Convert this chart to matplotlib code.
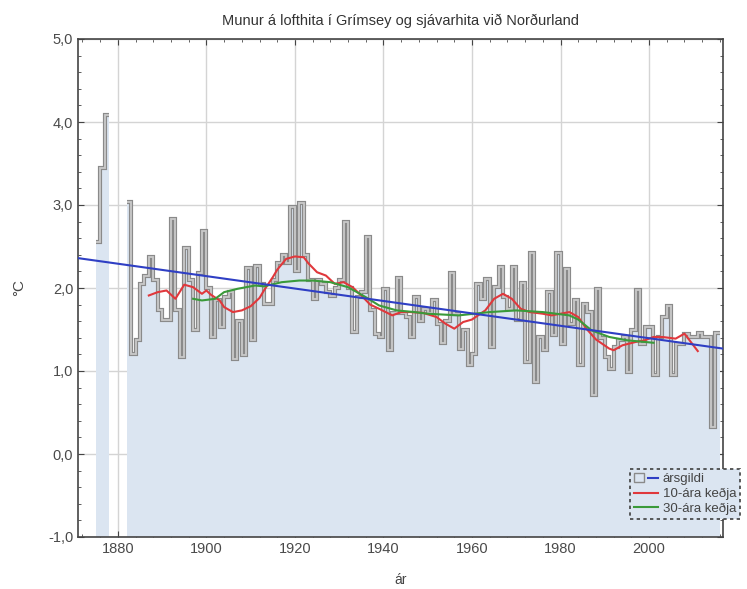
import matplotlib
matplotlib.use("Agg")
import matplotlib.pyplot as plt
from matplotlib.patches import Patch
from matplotlib.lines import Line2D
from matplotlib.legend_handler import HandlerTuple
from matplotlib.ticker import FuncFormatter, MultipleLocator

plt.rcParams["font.family"] = ["Liberation Sans", "DejaVu Sans"]

# annual values (two blocks, gap 1878-1881)
early_years = [1875, 1876, 1877]
early_vals = [2.56, 3.44, 4.08]

years = list(range(1882, 2016))
vals = [
    3.04, 1.21, 1.37, 2.05, 2.15, 2.37, 2.10, 1.73, 1.61, 1.61,   # 1882-1891
    2.83, 1.73, 1.17, 2.48, 2.10, 1.49, 2.18, 2.69, 2.00, 1.41,   # 1892-1901
    1.85, 1.53, 1.89, 1.95, 1.15, 1.60, 1.19, 2.24, 1.37, 2.27,   # 1902-1911
    2.05, 1.81, 1.81, 2.10, 2.30, 2.40, 2.30, 2.98, 2.20, 3.03,   # 1912-1921
    2.40, 2.10, 1.87, 2.10, 2.05, 1.95, 1.90, 2.00, 2.10, 2.80,   # 1922-1931
    2.00, 1.47, 1.89, 1.95, 2.62, 1.73, 1.45, 1.41, 1.99, 1.25,   # 1932-1941
    1.70, 2.12, 1.70, 1.65, 1.41, 1.89, 1.60, 1.75, 1.70, 1.85,   # 1942-1951
    1.57, 1.34, 1.60, 2.18, 1.69, 1.27, 1.49, 1.07, 1.20, 2.05,   # 1952-1961
    1.87, 2.11, 1.29, 2.01, 2.25, 1.89, 1.75, 2.25, 1.61, 2.06,   # 1962-1971
    1.11, 2.42, 0.87, 1.41, 1.25, 1.95, 1.43, 2.42, 1.33, 2.23,   # 1972-1981
    1.57, 1.85, 1.07, 1.81, 1.71, 0.71, 1.99, 1.40, 1.17, 1.03,   # 1982-1991
    1.29, 1.37, 1.41, 0.99, 1.49, 1.97, 1.33, 1.53, 1.53, 0.95,   # 1992-2001
    1.41, 1.65, 1.78, 0.95, 1.33, 1.33, 1.45, 1.41, 1.41, 1.46,   # 2002-2011
    1.41, 1.41, 0.33, 1.46,                                       # 2012-2015
]

# linear trend
trend_years = [1871, 2016.7]
trend_vals = [2.36, 1.27]

# 10-year running mean
red_years = [1887, 1889, 1891, 1893, 1895, 1897, 1899, 1900, 1901, 1903, 1904, 1906,
             1908, 1910, 1912, 1913, 1915, 1916, 1918, 1920, 1922, 1923, 1925, 1927,
             1929, 1931, 1933, 1935, 1937, 1939, 1942, 1944, 1946, 1949, 1952, 1954,
             1956, 1958, 1960, 1963, 1965, 1967, 1969, 1971, 1973, 1976, 1978, 1980,
             1982, 1984, 1986, 1988, 1991, 1992, 1994, 1997, 1999, 2001, 2003, 2006,
             2008, 2009, 2011]
red_vals = [1.91, 1.95, 1.97, 1.87, 2.04, 2.01, 1.93, 1.97, 1.92, 1.85, 1.77, 1.71,
            1.73, 1.78, 1.88, 1.97, 2.13, 2.22, 2.35, 2.38, 2.37, 2.30, 2.19, 2.15,
            2.05, 2.07, 2.01, 1.91, 1.80, 1.75, 1.67, 1.71, 1.71, 1.70, 1.65, 1.57,
            1.51, 1.59, 1.62, 1.73, 1.87, 1.93, 1.87, 1.75, 1.71, 1.69, 1.67, 1.69,
            1.71, 1.65, 1.50, 1.38, 1.27, 1.25, 1.31, 1.35, 1.37, 1.41, 1.41, 1.39,
            1.45, 1.38, 1.24]

# 30-year running mean
green_years = [1897, 1899, 1902, 1904, 1907, 1909, 1911, 1913, 1917, 1921, 1924, 1928,
               1932, 1936, 1939, 1943, 1947, 1950, 1957, 1964, 1970, 1976, 1982, 1984,
               1987, 1991, 1995, 1999, 2001]
green_vals = [1.87, 1.85, 1.87, 1.95, 1.99, 2.01, 2.03, 2.02, 2.07, 2.09, 2.09, 2.07,
              2.01, 1.89, 1.79, 1.73, 1.71, 1.69, 1.67, 1.71, 1.73, 1.71, 1.67, 1.62,
              1.49, 1.41, 1.37, 1.35, 1.34]

fill_col = "#dbe5f1"

fig = plt.figure(figsize=(7.47, 5.89), dpi=100)
ax = fig.add_axes([78 / 747, 1 - 537 / 589, 645 / 747, 498 / 589])

for yr, v in [(early_years, early_vals), (years, vals)]:
    edges = yr + [yr[-1] + 1]
    ax.stairs(v, edges, baseline=-1, fill=True, color=fill_col, zorder=2)
    ax.stairs(v, edges, baseline=None, color="#8a8a8a", lw=3.0, zorder=3)
    ax.stairs(v, edges, baseline=None, color="#cacaca", lw=1.3, zorder=3)

ax.plot(trend_years, trend_vals, color="#2f3fc4", lw=1.5, zorder=5)
ax.plot(red_years, red_vals, color="#e0383c", lw=1.5, zorder=4)
ax.plot(green_years, green_vals, color="#3a9a3a", lw=1.5, zorder=4)

ax.set_xlim(1871, 2016.7)
ax.set_ylim(-1, 5)
ax.xaxis.set_major_locator(MultipleLocator(20))
ax.xaxis.set_minor_locator(MultipleLocator(4))
ax.yaxis.set_major_locator(MultipleLocator(1))
ax.yaxis.set_minor_locator(MultipleLocator(0.2))
ax.yaxis.set_major_formatter(FuncFormatter(lambda v, p: f"{v:.1f}".replace(".", ",")))

ax.set_axisbelow(True)
ax.grid(True, which="major", color="#d4d4d4", lw=1.0, zorder=0)
ax.tick_params(which="both", direction="in", top=True, right=True,
               colors="#444444", labelcolor="#4a4a4a", labelsize=10.5)
ax.tick_params(which="major", length=4)
ax.tick_params(which="minor", length=2)
for s in ax.spines.values():
    s.set_color("#444444")
    s.set_linewidth(1.2)

ax.set_title("Munur á lofthita í Grímsey og sjávarhita við Norðurland",
             fontsize=10.5, color="#333333", pad=10)
ax.set_xlabel("ár", fontsize=10, color="#444444", labelpad=12)
ax.set_ylabel("°C", fontsize=11, color="#444444", labelpad=16)

h1 = (Patch(facecolor=fill_col, edgecolor="#8a8a8a"), Line2D([], [], color="#2f3fc4", lw=1.5))
h2 = Line2D([], [], color="#e0383c", lw=1.5)
h3 = Line2D([], [], color="#3a9a3a", lw=1.5)
leg = fig.legend([h1, h2, h3], ["ársgildi", "10-ára keðja", "30-ára keðja"],
                 handler_map={tuple: HandlerTuple(ndivide=None)},
                 loc="lower left", bbox_to_anchor=(630 / 747, 1 - 519 / 589),
                 fontsize=9.5, frameon=True, fancybox=False, facecolor=fill_col,
                 framealpha=1, edgecolor="#404040", labelspacing=0.2,
                 handlelength=1.8, handletextpad=0.4, borderpad=0.3,
                 borderaxespad=0)
leg.get_frame().set_linestyle((0, (2, 2)))
leg.get_frame().set_linewidth(1.2)
for t in leg.get_texts():
    t.set_color("#444444")

fig.savefig("out.png", dpi=100)
